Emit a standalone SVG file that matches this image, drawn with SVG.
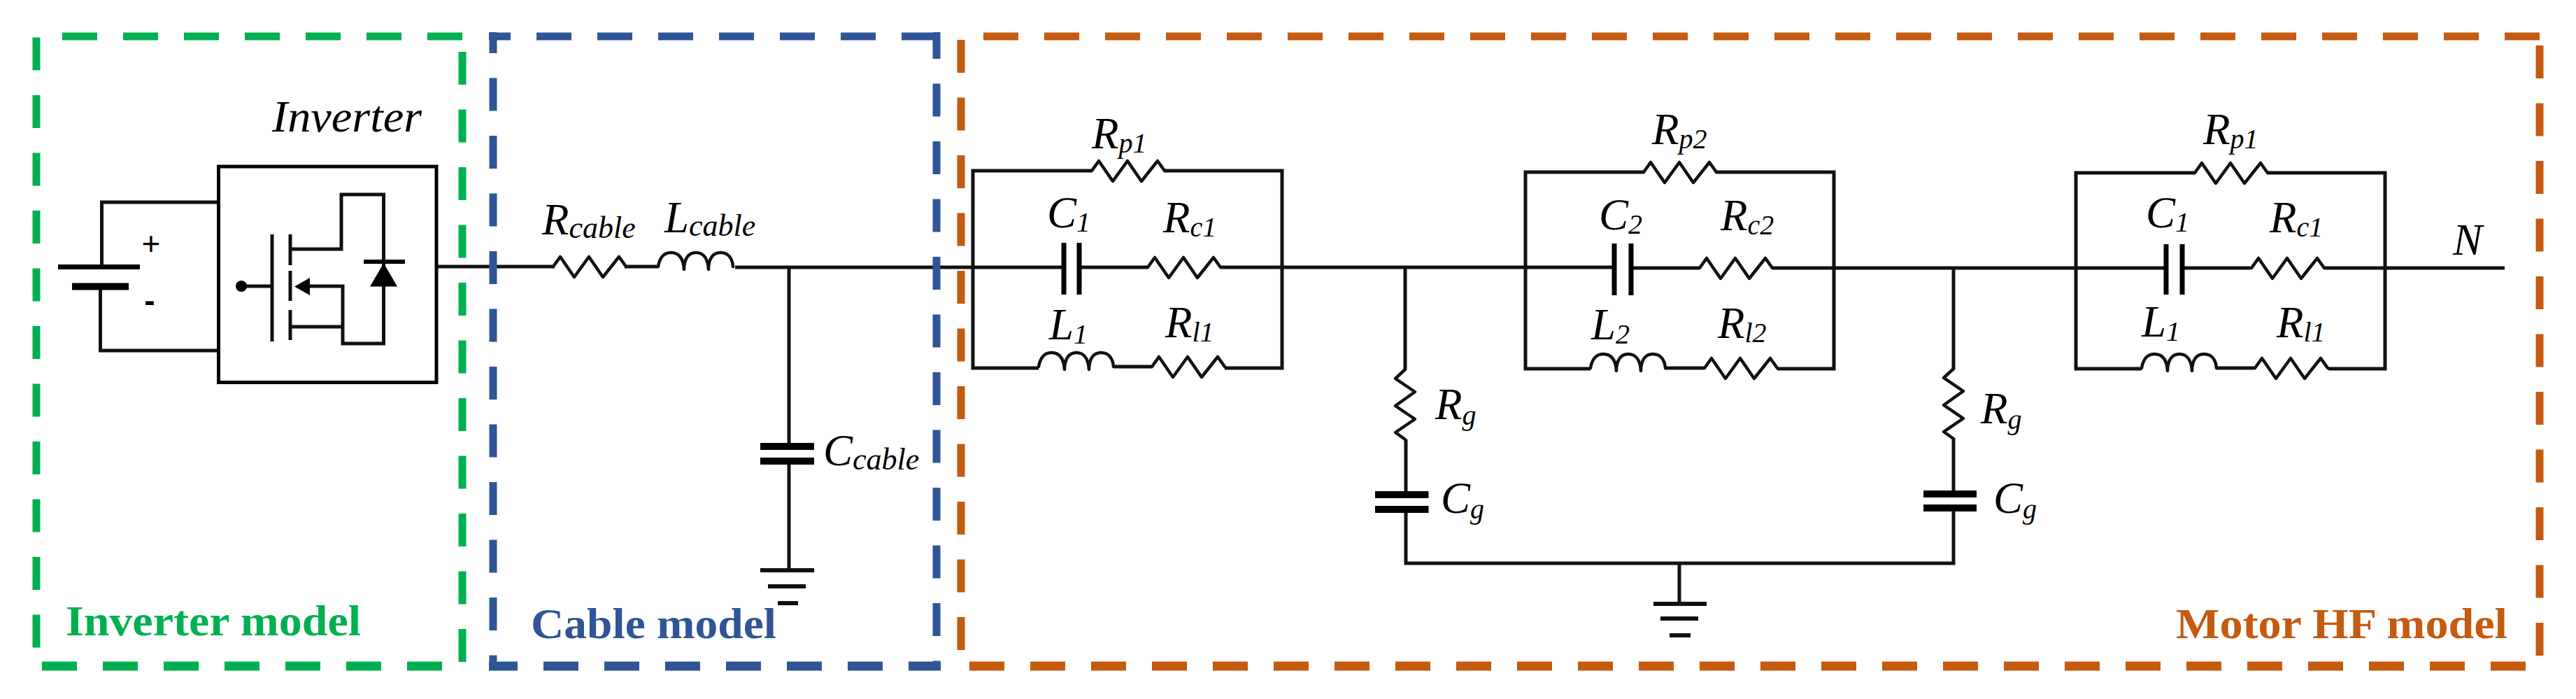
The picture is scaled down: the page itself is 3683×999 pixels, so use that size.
<svg xmlns="http://www.w3.org/2000/svg" width="3683" height="999" viewBox="0 0 3683 999">
<style>
.w{fill:none;stroke:#111;stroke-width:5;stroke-linejoin:miter}
.gr{stroke-width:6}
.sym{fill:none;stroke:#111;stroke-width:4.5;stroke-linejoin:round;stroke-linecap:round}
.plate{fill:none;stroke:#000;stroke-width:7}
.cp{fill:none;stroke:#000;stroke-width:10}
.fh,.fv{fill:none;stroke-width:11}
.fh{stroke-dasharray:50 37}
.fv{stroke-dasharray:47 35.5}
.fb{stroke-width:13}
.g{stroke:#00B050}.b{stroke:#2F5597}.o{stroke:#C55A11}
.m{font-family:"Liberation Serif","Times New Roman",serif;font-style:italic;font-size:63px;fill:#000}
.s{font-size:40px}
.sc{font-size:44px}
.t{font-family:"Liberation Serif","Times New Roman",serif;font-weight:bold;font-size:62px}
.pm{font-family:"Liberation Sans",Arial,sans-serif;font-size:46px;fill:#000}
</style>
<defs>
<path id="res" d="M0 0L10 -14L30 15L51 -14L71 15L94 -14L104 0"/>
<path id="ind" d="M0 0C2 -12 8 -20 18 -20C30 -20 36 -12 37 4C37 -12 44 -20 54 -20C64 -20 71 -12 72 4C72 -12 79 -20 89 -20C100 -20 106 -12 107 0"/>
<path id="resv" d="M0 0L-14 13L14 32L-14 52L14 71L-14 90L0 100"/>
</defs>

<g id="connectors">
<path class="w" d="M145.500 381V289H312M143.500 410V501H312"/>
<path class="w" d="M624 381H793M893 381H941M1051 382H1521M1543 382H1641M1746 382H2308M2332 383H2429M2535 383H3097M3120 383H3217M3324 383H3581"/>
<path class="w" d="M1128 382V633M1128 664V815"/>
<path class="w" d="M1561 244H1391V526H1485M1665 244H1833V526H1751M1592 524H1647"/>
<path class="w" d="M2350 246H2181V527H2274M2454 246H2622V527H2541M2380 526H2436"/>
<path class="w" d="M3138 247H2968V527H3062M3242 247H3410V527H3329M3169 526H3223"/>
<path class="w" d="M2009 383V528M2010 628V702M2010 733V805H2793V731M2793 701V626M2793 527V383M2401 805V863"/>
</g>

<g id="inverter-frame">
<line class="fh g" x1="89" y1="52" x2="661" y2="52"/>
<line class="fh fb g" x1="60" y1="952" x2="632" y2="952"/>
<line class="fv g" x1="52" y1="53.600" x2="52" y2="926"/>
<line class="fv g" x1="661" y1="74" x2="661" y2="946"/>
<text class="t" x="94" y="908" textLength="422" lengthAdjust="spacingAndGlyphs" fill="#00B050">Inverter model</text>
</g>
<g id="cable-frame">
<line class="fh b" x1="699" y1="52" x2="1345" y2="52" stroke-dashoffset="19"/>
<line class="fh fb b" x1="699" y1="952" x2="1345" y2="952" stroke-dashoffset="9"/>
<line class="fv b" x1="705" y1="46" x2="705" y2="958" stroke-dashoffset="17"/>
<line class="fv b" x1="1339" y1="46" x2="1339" y2="958" stroke-dashoffset="9"/>
<text class="t" x="759" y="912" textLength="351" lengthAdjust="spacingAndGlyphs" fill="#2F5597">Cable model</text>
</g>
<g id="motor-frame">
<line class="fh o" x1="1406" y1="52" x2="3631" y2="52"/>
<line class="fh fb o" x1="1386" y1="952" x2="3611" y2="952"/>
<line class="fv o" x1="1374" y1="57" x2="1374" y2="929"/>
<line class="fv o" x1="3631" y1="65" x2="3631" y2="937"/>
<text class="t" x="3111" y="912" textLength="474" lengthAdjust="spacingAndGlyphs" fill="#C55A11">Motor HF model</text>
</g>

<g id="battery">
<line class="plate" x1="83" y1="381.500" x2="200" y2="381.500"/>
<line class="cp" x1="103" y1="409.500" x2="184" y2="409.500"/>
<text class="pm" x="216" y="364" text-anchor="middle">+</text>
<text class="pm" x="214" y="445" text-anchor="middle" font-weight="bold">-</text>
</g>
<g id="inverter">
<rect x="312.500" y="238" width="311.500" height="308.500" fill="none" stroke="#000" stroke-width="5"/>
<path class="w" d="M389 335V488M415 335V379M415 387V430M415 443V486"/>
<path class="w" d="M345 409H389M443 409H490V491H548.500V278H488V356H415M415 467H490"/>
<circle cx="345" cy="409" r="8" fill="#000"/>
<polygon points="421,409.500 443,397 443,422" fill="#000"/>
<line x1="520" y1="374" x2="579" y2="374" stroke="#000" stroke-width="6"/>
<polygon points="548.500,376 529,409.500 568,409.500" fill="#000"/>
<text class="m" x="389" y="187.500" textLength="214" lengthAdjust="spacingAndGlyphs">Inverter</text>
</g>

<g id="r-cable"><use class="sym" href="#res" x="791" y="381"/><text class="m" x="775" y="335">R<tspan class="sc" dy="5">cable</tspan></text></g>
<g id="l-cable"><use class="sym" href="#ind" x="941" y="381"/><text class="m" x="950" y="332">L<tspan class="sc" dy="5">cable</tspan></text></g>
<g id="c-cable"><line class="cp" x1="1087" y1="638" x2="1164" y2="638"/><line class="cp" x1="1087" y1="659" x2="1164" y2="659"/><text class="m" x="1177" y="665">C<tspan class="sc" dy="6">cable</tspan></text></g>
<g id="ground-cable"><path class="w gr" d="M1087 815H1164M1098 838H1152M1112 862H1141"/></g>

<g id="r-p1-a"><use class="sym" href="#res" x="1561" y="244"/><text class="m" x="1561" y="212">R<tspan class="s" dy="6">p1</tspan></text></g>
<g id="c-1-a"><line class="plate" x1="1521" y1="347" x2="1521" y2="421"/><line class="plate" x1="1543" y1="347" x2="1543" y2="421"/><text class="m" x="1497" y="325">C<tspan class="s" dy="6">1</tspan></text></g>
<g id="r-c1-a"><use class="sym" href="#res" x="1641" y="382"/><text class="m" x="1663" y="332">R<tspan class="s" dy="6">c1</tspan></text></g>
<g id="l-1-a"><use class="sym" href="#ind" x="1485" y="524"/><text class="m" x="1500" y="485">L<tspan class="s" dy="6">1</tspan></text></g>
<g id="r-l1-a"><use class="sym" href="#res" x="1647" y="524"/><text class="m" x="1666" y="482">R<tspan class="s" dy="6">l1</tspan></text></g>

<g id="r-p2"><use class="sym" href="#res" x="2350" y="246"/><text class="m" x="2362" y="206">R<tspan class="s" dy="6">p2</tspan></text></g>
<g id="c-2"><line class="plate" x1="2308" y1="348" x2="2308" y2="422"/><line class="plate" x1="2332" y1="348" x2="2332" y2="422"/><text class="m" x="2286" y="328">C<tspan class="s" dy="6">2</tspan></text></g>
<g id="r-c2"><use class="sym" href="#res" x="2430" y="383"/><text class="m" x="2460" y="329">R<tspan class="s" dy="6">c2</tspan></text></g>
<g id="l-2"><use class="sym" href="#ind" x="2274" y="526"/><text class="m" x="2275" y="485">L<tspan class="s" dy="6">2</tspan></text></g>
<g id="r-l2"><use class="sym" href="#res" x="2437" y="526"/><text class="m" x="2456" y="483">R<tspan class="s" dy="6">l2</tspan></text></g>

<g id="r-p1-b"><use class="sym" href="#res" x="3138" y="247"/><text class="m" x="3150" y="205.500">R<tspan class="s" dy="6">p1</tspan></text></g>
<g id="c-1-b"><line class="plate" x1="3097" y1="349" x2="3097" y2="421"/><line class="plate" x1="3120" y1="349" x2="3120" y2="421"/><text class="m" x="3068" y="325">C<tspan class="s" dy="6">1</tspan></text></g>
<g id="r-c1-b"><use class="sym" href="#res" x="3219" y="383"/><text class="m" x="3245" y="332">R<tspan class="s" dy="6">c1</tspan></text></g>
<g id="l-1-b"><use class="sym" href="#ind" x="3062" y="526"/><text class="m" x="3062" y="481">L<tspan class="s" dy="6">1</tspan></text></g>
<g id="r-l1-b"><use class="sym" href="#res" x="3224" y="526"/><text class="m" x="3255" y="482">R<tspan class="s" dy="6">l1</tspan></text></g>
<g id="node-n"><text class="m" x="3507" y="364">N</text></g>

<g id="r-g-a"><use class="sym" href="#resv" x="2009" y="528"/><text class="m" x="2052" y="599">R<tspan class="s" dy="8">g</tspan></text></g>
<g id="c-g-a"><line class="cp" x1="1966" y1="707" x2="2042.500" y2="707"/><line class="cp" x1="1966" y1="728" x2="2042.500" y2="728"/><text class="m" x="2060" y="733">C<tspan class="s" dy="8">g</tspan></text></g>
<g id="r-g-b"><use class="sym" href="#resv" x="2793" y="527"/><text class="m" x="2832" y="605">R<tspan class="s" dy="8">g</tspan></text></g>
<g id="c-g-b"><line class="cp" x1="2750" y1="706" x2="2826" y2="706"/><line class="cp" x1="2750" y1="726" x2="2826" y2="726"/><text class="m" x="2850" y="733">C<tspan class="s" dy="8">g</tspan></text></g>
<g id="ground-motor"><path class="w gr" d="M2364 863H2440M2374 884H2428M2387 908H2417"/></g>
</svg>
